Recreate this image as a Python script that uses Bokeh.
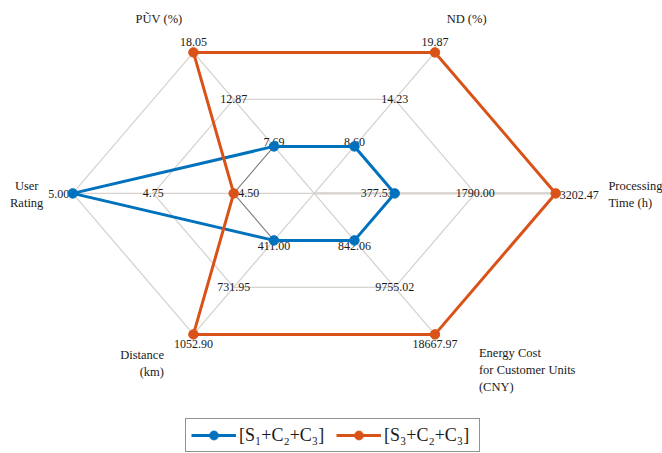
import numpy as np
from bokeh.plotting import figure
from bokeh.models import Range1d, Legend, LegendItem
from bokeh.core.properties import value
from bokeh.embed import file_html
from bokeh.resources import INLINE

# ---------------- data ----------------
axis_names = ["Processing\nTime (h)", "ND (%)", "PŨV (%)", "User\nRating",
              "Distance\n(km)", "Energy Cost\nfor Customer Units\n(CNY)"]
axis_angles_deg = [0, 60, 120, 180, 240, 300]

# per-axis ring values (inner, middle, outer)
ticks_inner = [377.53, 8.60, 7.69, 4.50, 411.00, 842.06]
ticks_mid = [1790.00, 14.23, 12.87, 4.75, 731.95, 9755.02]
ticks_outer = [3202.47, 19.87, 18.05, 5.00, 1052.90, 18667.97]
tick_labels_inner = ["377.53", "8.60", "7.69", "4.50", "411.00", "842.06"]
tick_labels_mid = ["1790.00", "14.23", "12.87", "4.75", "731.95", "9755.02"]
tick_labels_outer = ["3202.47", "19.87", "18.05", "5.00", "1052.90", "18667.97"]

series_names = ["[S₁+C₂+C₃]", "[S₃+C₂+C₃]"]
s1_values = [377.53, 8.60, 7.69, 5.00, 411.00, 842.06]
s3_values = [3202.47, 19.87, 18.05, 4.50, 1052.90, 18667.97]
series_colors = ["#0072BD", "#D95319"]

# ---------------- layout ----------------
W, H = 662, 453
CX, CY = 313.7, 192.9              # centre inside the canvas (px)
RX, RY = 241.5, 162.8              # web radii (px, horizontal / vertical)
FONT = "Liberation Serif"
TXT = "#1a1a1a"
GRID = "#d6d3ce"

ang = np.deg2rad(axis_angles_deg)
cosA, sinA = np.cos(ang), np.sin(ang)


def to_xy(r):
    r = np.asarray(r, dtype=float)
    return r * RX * cosA, r * RY * sinA


def normalise(vals):
    lo = np.array(ticks_inner)
    hi = np.array(ticks_outer)
    return 1/3 + 2/3 * (np.array(vals) - lo) / (hi - lo)


p = figure(width=W, height=H, output_backend="svg", toolbar_location=None,
           x_range=Range1d(-CX, W - CX), y_range=Range1d(-(H - CY), CY),
           x_axis_location=None, y_axis_location=None, min_border=0)
p.grid.visible = False
p.outline_line_color = None
p.background_fill_color = "white"

# ---- web ----
ring_xs, ring_ys = [], []
for r in (2/3, 1.0):
    x, y = to_xy(np.full(6, r))
    ring_xs.append(list(x) + [x[0]])
    ring_ys.append(list(y) + [y[0]])
ox, oy = to_xy(np.ones(6))
spoke_xs = [[0, ox[i]] for i in range(6)]
spoke_ys = [[0, oy[i]] for i in range(6)]
p.multi_line(ring_xs + spoke_xs, ring_ys + spoke_ys, line_color=GRID, line_width=1.3)
p.line([0, ox[0]], [0, oy[0]], line_color=GRID, line_width=2.2)
ix, iy = to_xy(np.full(6, 1/3))
p.line(list(ix) + [ix[0]], list(iy) + [iy[0]], line_color="#7f7f7f", line_width=1.1)

# ---- ring value labels ----
mx, my = to_xy(np.full(6, 2/3))
p.text(mx, my, text=tick_labels_mid, text_font=value(FONT), text_font_size="12px",
       text_color=TXT, text_align="center", text_baseline="middle")

# offsets per axis (px): (align, dx, dy)
outer_style = [("left", 4, 2), ("center", 0, -10), ("center", 0, -10),
               ("right", -3.5, 0.5), ("center", 0, 9.5), ("center", 0, 9.5)]
inner_style = [("right", -1, 0), ("center", 0, -4.5), ("center", 0, -4.5),
               ("left", 4.6, 0), ("center", 0, 6), ("center", 0, 6)]
for (px_, py_, labels, style) in ((ox, oy, tick_labels_outer, outer_style),
                                  (ix, iy, tick_labels_inner, inner_style)):
    for al in ("left", "center", "right"):
        idx = [i for i in range(6) if style[i][0] == al]
        if not idx:
            continue
        p.text([px_[i] for i in idx], [py_[i] for i in idx],
               text=[labels[i] for i in idx],
               x_offset=[style[i][1] for i in idx], y_offset=[style[i][2] for i in idx],
               text_font=value(FONT), text_font_size="12px", text_color=TXT,
               text_align=al, text_baseline="middle")

# ---- axis titles ----
title_style = [("left", 52.7, 1.3), ("left", 11.7, -33.4), ("right", -11, -33.4),
               ("center", -46, 1.0), ("right", -29.5, 29), ("left", 44, 35.6)]
for i in range(6):
    al, dx, dy = title_style[i]
    p.text([ox[i]], [oy[i]], text=[axis_names[i]], x_offset=dx, y_offset=dy,
           text_font=value(FONT), text_font_size="12.5px", text_color=TXT,
           text_align=al, text_baseline="middle", text_line_height=1.18)

# ---- series ----
items = []
for vals, name, col in ((s1_values, series_names[0], series_colors[0]),
                        (s3_values, series_names[1], series_colors[1])):
    sx, sy = to_xy(normalise(vals))
    lr = p.line(list(sx) + [sx[0]], list(sy) + [sy[0]], line_color=col, line_width=3)
    sr = p.scatter(sx, sy, size=9.5, fill_color=col, line_color=col)
    items.append(LegendItem(label=name, renderers=[lr, sr]))

legend = Legend(items=items, orientation="horizontal", location=(185, 1),
                label_text_font=FONT, label_text_font_size="18px", label_text_color=TXT,
                border_line_color="#262626", border_line_width=1, padding=5, spacing=7,
                margin=0, glyph_width=45, glyph_height=22, label_standoff=3,
                label_width=90,
                background_fill_color="white", background_fill_alpha=1)
p.add_layout(legend, "center")

open("out.html", "w").write(file_html(p, INLINE))
